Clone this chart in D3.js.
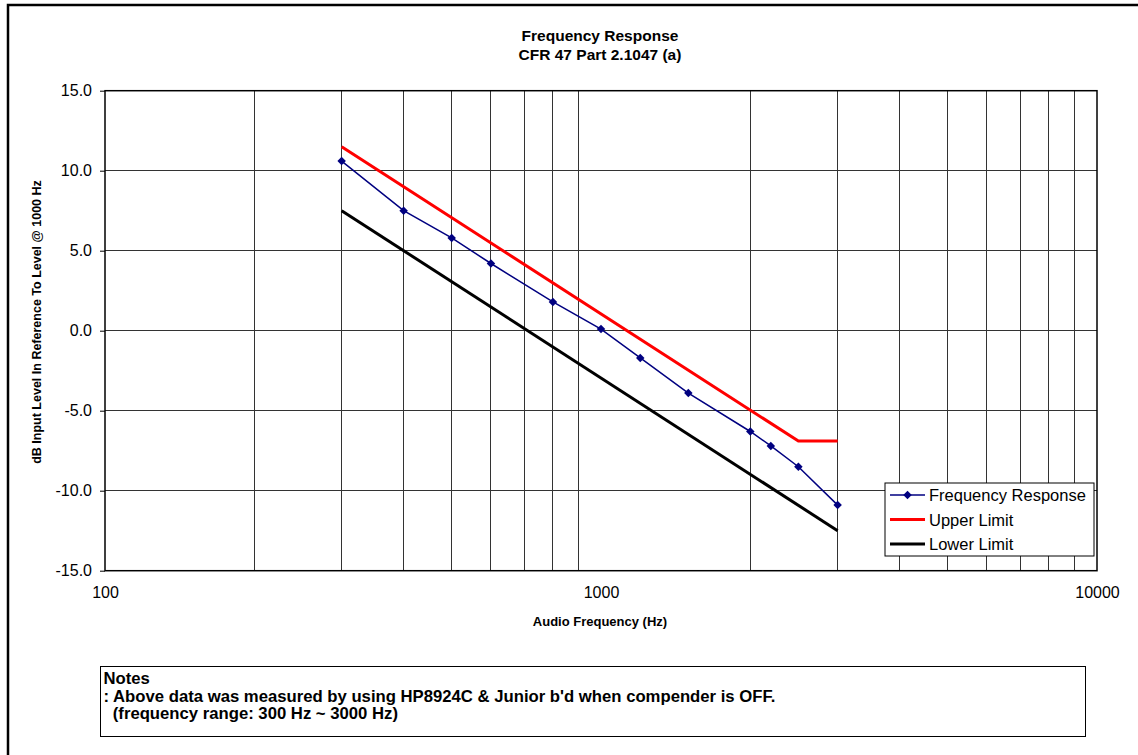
<!DOCTYPE html>
<html>
<head>
<meta charset="utf-8">
<script src="https://cdn.jsdelivr.net/npm/d3@7"></script>
<style>
  body { margin: 0; background: #fff; }
  svg text { font-family: "Liberation Sans", Arial, sans-serif; fill: #000; }
</style>
</head>
<body>
<div id="chart"></div>
<script>
// measured points (Hz, dB)
var respFreq  = [300, 400, 500, 600, 800, 1000, 1200, 1500, 2000, 2200, 2500, 3000];
var respDb    = [10.6, 7.5, 5.8, 4.2, 1.8, 0.1, -1.7, -3.9, -6.3, -7.2, -8.5, -10.9];
var upperFreq = [300, 2500, 3000];
var upperDb   = [11.5, -6.9, -6.9];
var lowerFreq = [300, 3000];
var lowerDb   = [7.5, -12.5];
var yTicks    = [-15, -10, -5, 0, 5, 10, 15];
var xTicks    = [100, 1000, 10000];
var xGrid     = [200, 300, 400, 500, 600, 700, 800, 900, 2000, 3000, 4000, 5000, 6000, 7000, 8000, 9000];
var seriesNames = ["Frequency Response", "Upper Limit", "Lower Limit"];

(function() {
  const W = 1138, H = 755;
  const margin = {top: 90.7, left: 105, right: 1097, bottom: 570.7};

  var svg = d3.select("#chart").append("svg")
      .attr("width", W)
      .attr("height", H);

  var x = d3.scaleLog().domain([100, 10000]).range([margin.left, margin.right]);
  var y = d3.scaleLinear().domain([-15, 15]).range([margin.bottom, margin.top]);

  // outer frame
  svg.append("rect")
      .attr("x", 8).attr("y", 5)
      .attr("width", W + 20).attr("height", H + 20)
      .attr("fill", "none").attr("stroke", "#000").attr("stroke-width", 2.5);

  // titles
  svg.append("text").attr("x", 600).attr("y", 41)
      .attr("text-anchor", "middle").attr("font-size", 15.5).attr("font-weight", "bold")
      .text("Frequency Response");
  svg.append("text").attr("x", 600).attr("y", 60)
      .attr("text-anchor", "middle").attr("font-size", 15.5).attr("font-weight", "bold")
      .text("CFR 47 Part 2.1047 (a)");

  // grid
  var grid = svg.append("g").attr("shape-rendering", "crispEdges");
  grid.selectAll(".vg").data(xGrid).join("line")
      .attr("x1", d => x(d)).attr("x2", d => x(d))
      .attr("y1", margin.top).attr("y2", margin.bottom)
      .attr("stroke", "#333").attr("stroke-width", 1);
  grid.selectAll(".hg").data(yTicks.slice(1, -1)).join("line")
      .attr("x1", margin.left).attr("x2", margin.right)
      .attr("y1", d => y(d)).attr("y2", d => y(d))
      .attr("stroke", "#333").attr("stroke-width", 1);

  // plot border
  svg.append("rect")
      .attr("x", margin.left).attr("y", margin.top)
      .attr("width", margin.right - margin.left).attr("height", margin.bottom - margin.top)
      .attr("fill", "none").attr("stroke", "#000").attr("stroke-width", 1.5);

  // y axis
  var fmt = d3.format(".1f");
  var yAxis = svg.append("g")
      .attr("transform", "translate(" + margin.left + ",0)")
      .call(d3.axisLeft(y).tickValues(yTicks).tickSize(5).tickPadding(8)
        .tickFormat(d => fmt(d).replace("\u2212", "-")));
  yAxis.select(".domain").remove();
  yAxis.selectAll("text").attr("font-size", 16).attr("font-family", "Liberation Sans, Arial, sans-serif");
  yAxis.selectAll("line").attr("stroke", "#000");

  // x axis
  var xAxis = svg.append("g")
      .attr("transform", "translate(0," + margin.bottom + ")")
      .call(d3.axisBottom(x).tickValues(xTicks).tickSize(0).tickPadding(16).tickFormat(d3.format("d")));
  xAxis.select(".domain").remove();
  xAxis.selectAll("text").attr("font-size", 16).attr("font-family", "Liberation Sans, Arial, sans-serif");

  // axis titles
  svg.append("text").attr("x", 600).attr("y", 626)
      .attr("text-anchor", "middle").attr("font-size", 13).attr("font-weight", "bold")
      .text("Audio Frequency (Hz)");
  svg.append("text")
      .attr("transform", "translate(41,322) rotate(-90)")
      .attr("text-anchor", "middle").attr("font-size", 12.5).attr("font-weight", "bold")
      .text("dB Input Level In Reference To Level @ 1000 Hz");

  var line = d3.line().x(d => x(d[0])).y(d => y(d[1]));

  svg.append("path")
      .datum(d3.zip(upperFreq, upperDb))
      .attr("d", line).attr("fill", "none").attr("stroke", "#ff0000").attr("stroke-width", 3);
  svg.append("path")
      .datum(d3.zip(lowerFreq, lowerDb))
      .attr("d", line).attr("fill", "none").attr("stroke", "#000").attr("stroke-width", 3);
  svg.append("path")
      .datum(d3.zip(respFreq, respDb))
      .attr("d", line).attr("fill", "none").attr("stroke", "#000080").attr("stroke-width", 1.5);

  var diamond = d3.symbol(d3.symbolSquare, 36);
  svg.selectAll(".pt").data(d3.zip(respFreq, respDb)).join("path")
      .attr("d", diamond)
      .attr("transform", d => "translate(" + x(d[0]) + "," + y(d[1]) + ") rotate(45)")
      .attr("fill", "#000080");

  // legend
  var lg = svg.append("g").attr("transform", "translate(885,483)");
  lg.append("rect").attr("width", 209).attr("height", 73)
      .attr("fill", "#fff").attr("stroke", "#000").attr("stroke-width", 1);
  var colors = ["#000080", "#ff0000", "#000"], widths = [1.5, 3, 3];
  seriesNames.forEach(function(name, i) {
    var cy = 12 + i * 24.5;
    lg.append("line").attr("x1", 5).attr("x2", 40).attr("y1", cy).attr("y2", cy)
        .attr("stroke", colors[i]).attr("stroke-width", widths[i]);
    if (i === 0) {
      lg.append("path").attr("d", diamond)
          .attr("transform", "translate(22.5," + cy + ") rotate(45)")
          .attr("fill", "#000080");
    }
    lg.append("text").attr("x", 44).attr("y", cy + 6).attr("font-size", 16.5).text(name);
  });

  // notes box
  var nb = svg.append("g").attr("transform", "translate(100.5,666.5)");
  nb.append("rect").attr("width", 985).attr("height", 70)
      .attr("fill", "#fff").attr("stroke", "#000").attr("stroke-width", 1);
  var notes = ["Notes",
               ": Above data was measured by using HP8924C & Junior b'd when compender is OFF.",
               "  (frequency range: 300 Hz ~ 3000 Hz)"];
  notes.forEach(function(t, i) {
    nb.append("text").attr("x", 3).attr("y", 17.5 + i * 17.5)
        .attr("font-size", 16.7).attr("font-weight", "bold")
        .attr("xml:space", "preserve").style("white-space", "pre")
        .text(t);
  });
})();
</script>
</body>
</html>
